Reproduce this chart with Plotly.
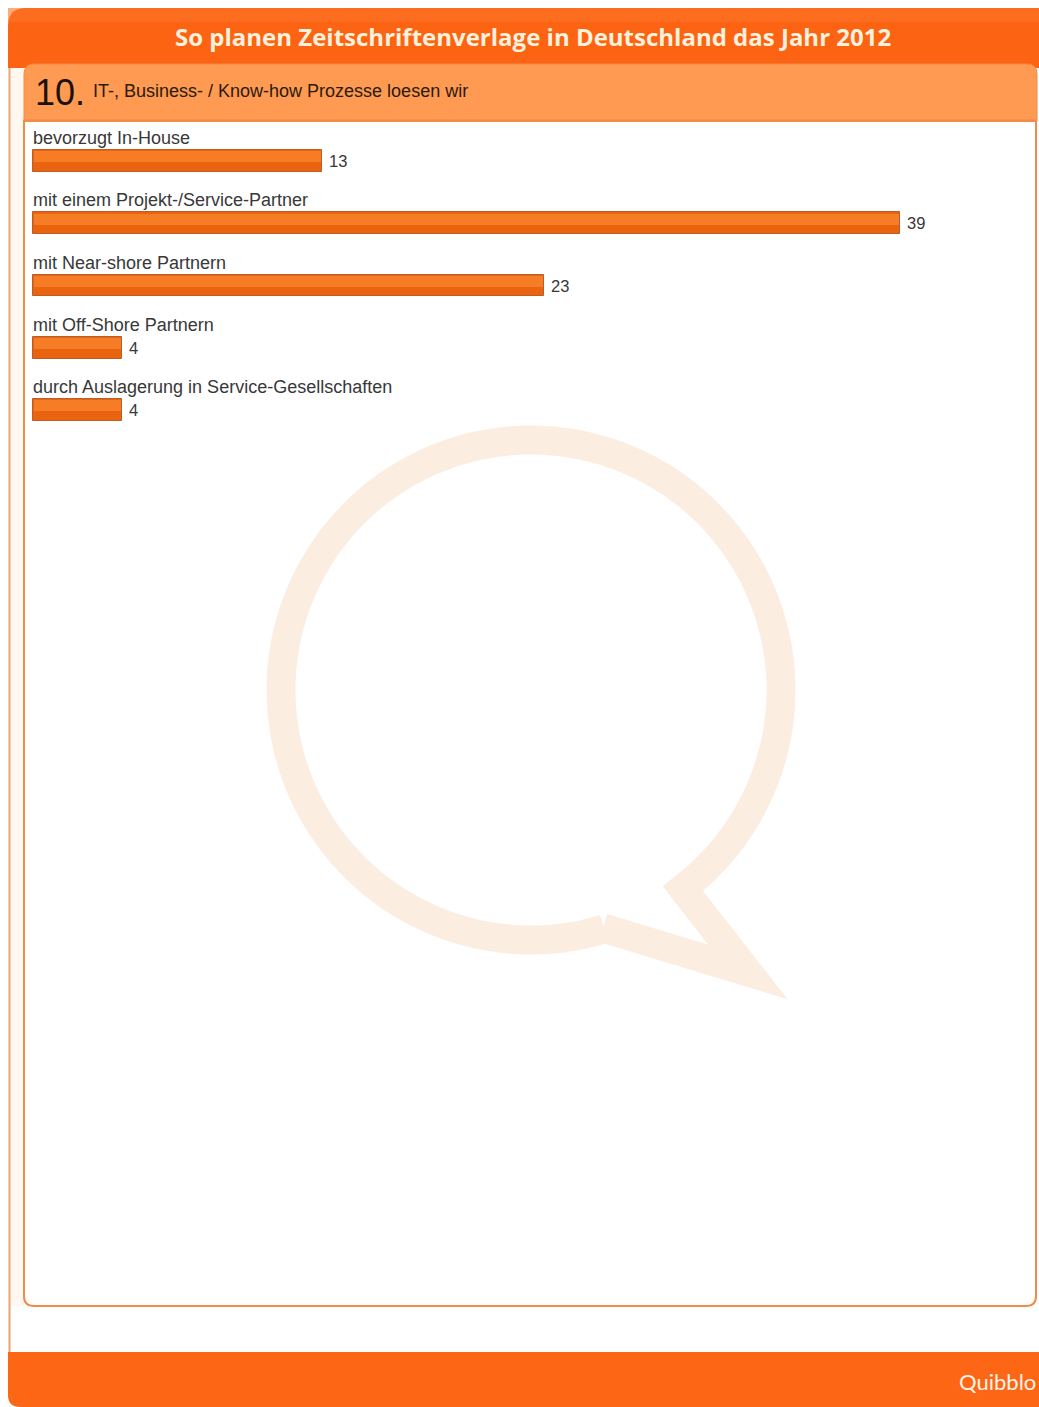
import numpy as np
import plotly.graph_objects as go

# Survey answers: "IT-, Business- / Know-how Prozesse loesen wir"
categories = [
    "bevorzugt In-House",
    "mit einem Projekt-/Service-Partner",
    "mit Near-shore Partnern",
    "mit Off-Shore Partnern",
    "durch Auslagerung in Service-Gesellschaften",
]
values = [13, 39, 23, 4, 4]

title_text = "So planen Zeitschriftenverlage in Deutschland das Jahr 2012"
question_no = "10."
question_text = "IT-, Business- / Know-how Prozesse loesen wir"

W, H = 1039, 1407


def px(x):
    return x / W


def py(y):
    return 1 - y / H


def rrect(x0, y0, x1, y1, tl=0, tr=0, br=0, bl=0):
    """Rounded rectangle path in paper coordinates, corners given in pixels."""
    p = [f"M{px(x0 + tl)},{py(y0)}", f"L{px(x1 - tr)},{py(y0)}"]
    if tr:
        p.append(f"Q{px(x1)},{py(y0)} {px(x1)},{py(y0 + tr)}")
    p.append(f"L{px(x1)},{py(y1 - br)}")
    if br:
        p.append(f"Q{px(x1)},{py(y1)} {px(x1 - br)},{py(y1)}")
    p.append(f"L{px(x0 + bl)},{py(y1)}")
    if bl:
        p.append(f"Q{px(x0)},{py(y1)} {px(x0)},{py(y1 - bl)}")
    p.append(f"L{px(x0)},{py(y0 + tl)}")
    if tl:
        p.append(f"Q{px(x0)},{py(y0)} {px(x0 + tl)},{py(y0)}")
    p.append("Z")
    return " ".join(p)


shapes = []

# left frame strip
shapes.append(dict(type="rect", xref="paper", yref="paper", x0=px(8), x1=px(24),
                   y0=py(1352), y1=py(50), fillcolor="#FFF7F0", line_width=0, layer="below"))
shapes.append(dict(type="line", xref="paper", yref="paper", x0=px(9.5), x1=px(9.5),
                   y0=py(1352), y1=py(50), line=dict(color="#E9A77A", width=2), layer="below"))
# white gap between content panel and footer
shapes.append(dict(type="rect", xref="paper", yref="paper", x0=px(11), x1=px(1039),
                   y0=py(1352), y1=py(1306), fillcolor="#FFFFFF", line_width=0, layer="below"))

# title banner
shapes.append(dict(type="path", xref="paper", yref="paper", path=rrect(8, 8, 1039, 68, tl=18),
                   fillcolor="#FC6312", line_width=0, layer="below"))
shapes.append(dict(type="rect", xref="paper", yref="paper", x0=px(8), x1=px(1039),
                   y0=py(22), y1=py(8), fillcolor="#FD7428", line_width=0, layer="below", opacity=0.6))

# question header panel
shapes.append(dict(type="path", xref="paper", yref="paper", path=rrect(24, 64, 1037, 121, tl=10, tr=10),
                   fillcolor="#FF9A52", line=dict(color="#F58A40", width=1), layer="below"))
shapes.append(dict(type="line", xref="paper", yref="paper", x0=px(24), x1=px(1037),
                   y0=py(120.5), y1=py(120.5), line=dict(color="#E07A38", width=1.5), layer="below"))

# content panel
shapes.append(dict(type="path", xref="paper", yref="paper", path=rrect(24, 121, 1036, 1306, br=10, bl=10),
                   fillcolor="#FFFFFF", line=dict(color="#EE8C48", width=2), layer="below"))

# speech-bubble watermark
cx, cy, r = 531, 690, 250
t = np.radians(np.linspace(73, 412.6, 140))
pts = [(cx + r * np.cos(a), cy + r * np.sin(a)) for a in t]
pts += [(748, 972), (603, 928)]
bubble = "M" + " L".join(f"{px(x)},{py(y)}" for x, y in pts)
shapes.append(dict(type="path", xref="paper", yref="paper", path=bubble,
                   line=dict(color="#FCEDE1", width=29), layer="below"))

# footer band
shapes.append(dict(type="path", xref="paper", yref="paper", path=rrect(8, 1352, 1039, 1407, bl=12),
                   fillcolor="#FD6614", line_width=0, layer="below"))

fig = go.Figure()

bar_w = 0.353
# main bars
fig.add_trace(go.Bar(
    x=values, y=categories, orientation="h", width=bar_w,
    marker=dict(color="#EA640F", line=dict(color="#B95E2A", width=1)),
    hoverinfo="skip", showlegend=False,
))
# lighter upper half of each bar
fig.add_trace(go.Bar(
    x=[v - 0.08 for v in values], base=0.04, y=categories, orientation="h",
    width=bar_w * 0.5, offset=-bar_w / 2 + 0.02,
    marker=dict(color="#F67C26", line_width=0),
    hoverinfo="skip", showlegend=False,
))

annotations = []
for c, v in zip(categories, values):
    annotations.append(dict(
        x=0, y=c, xref="x", yref="y", xanchor="left", yanchor="middle", yshift=23, xshift=-2,
        text=c, showarrow=False,
        font=dict(family="Liberation Sans, Arial", size=18, color="#383838"),
    ))
    annotations.append(dict(
        x=v, y=c, xref="x", yref="y", xanchor="left", yanchor="middle", xshift=5,
        text=str(v), showarrow=False,
        font=dict(family="Liberation Sans, Arial", size=16.5, color="#383838"),
    ))

annotations += [
    dict(x=px(533), y=py(37), xref="paper", yref="paper", xanchor="center", yanchor="middle",
         text=f"<b>{title_text}</b>", showarrow=False,
         font=dict(family="Open Sans, Lato", size=24, color="#FFF1DC")),
    dict(x=px(33), y=py(92), xref="paper", yref="paper", xanchor="left", yanchor="middle",
         text=question_no, showarrow=False,
         font=dict(family="Liberation Sans, Arial", size=36, color="#1A1208")),
    dict(x=px(91), y=py(91), xref="paper", yref="paper", xanchor="left", yanchor="middle",
         text=question_text, showarrow=False,
         font=dict(family="Liberation Sans, Arial", size=18, color="#2A1A0E")),
    dict(x=px(1038), y=py(1381), xref="paper", yref="paper", xanchor="right", yanchor="middle",
         text="Quibblo", showarrow=False,
         font=dict(family="Lato, Open Sans", size=22, color="#FFF4E8")),
]

unit = (900 - 33) / 39
fig.update_layout(
    width=W, height=H, margin=dict(l=0, r=0, t=0, b=0),
    paper_bgcolor="#FFFFFF", plot_bgcolor="rgba(0,0,0,0)",
    barmode="overlay", bargap=0,
    xaxis=dict(range=[-33 / unit, (W - 33) / unit], visible=False, fixedrange=True),
    yaxis=dict(type="category", categoryorder="array", categoryarray=categories,
               range=[(H - 161) / 62.25, -161 / 62.25], visible=False, fixedrange=True),
    shapes=shapes, annotations=annotations,
)

fig.write_html("out.html")
